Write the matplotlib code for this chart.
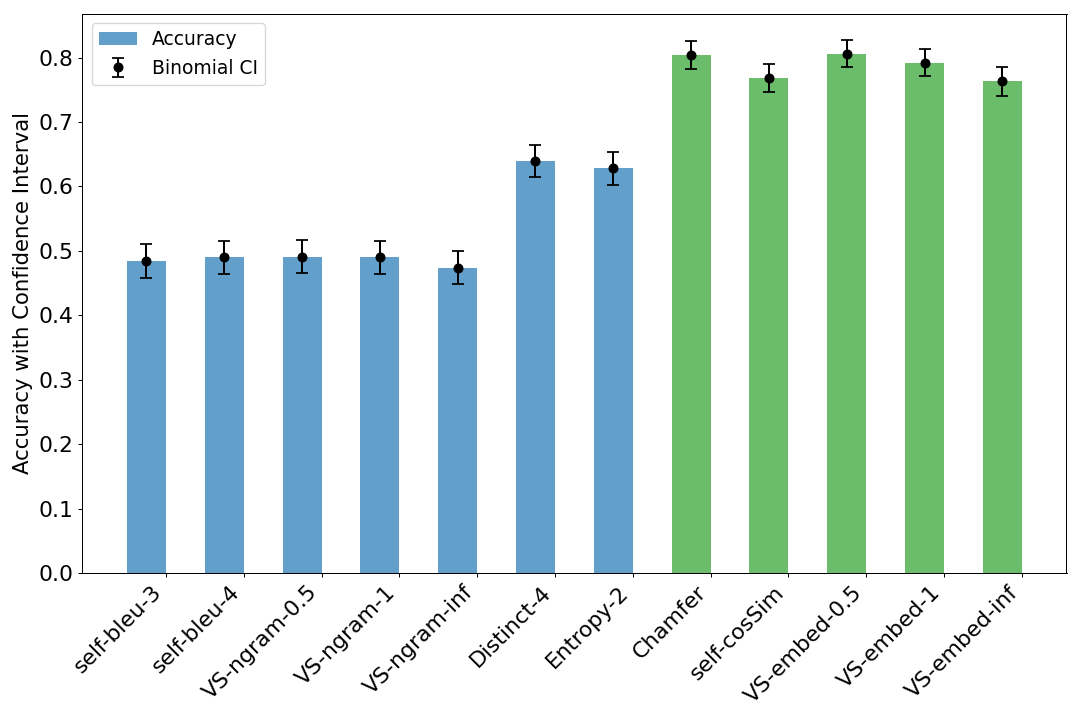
import numpy as np
import matplotlib
matplotlib.use("Agg")
import matplotlib.pyplot as plt

metrics = ["self-bleu-3", "self-bleu-4", "VS-ngram-0.5", "VS-ngram-1", "VS-ngram-inf",
           "Distinct-4", "Entropy-2", "Chamfer", "self-cosSim", "VS-embed-0.5",
           "VS-embed-1", "VS-embed-inf"]
accuracy = [0.484, 0.490, 0.491, 0.490, 0.474, 0.639, 0.628,
            0.804, 0.768, 0.806, 0.792, 0.763]
ci_half = [0.026, 0.026, 0.026, 0.026, 0.026, 0.025, 0.025,
           0.021, 0.022, 0.021, 0.021, 0.022]
groups = ["lexical"] * 7 + ["semantic"] * 5

group_colors = {"lexical": "tab:blue", "semantic": "tab:green"}

fig, ax = plt.subplots(figsize=(12, 8), dpi=90)

x = np.arange(len(metrics))
width = 0.5
colors = [group_colors[g] for g in groups]

ax.bar(x - width / 2, accuracy, width, color=colors, alpha=0.7, label="Accuracy")
ax.errorbar(x - width / 2, accuracy, yerr=ci_half, fmt="o", color="black",
            capsize=5, markersize=7, elinewidth=1.6, capthick=1.4, label="Binomial CI")

ax.set_ylabel("Accuracy with Confidence Interval", fontsize=17)
ax.set_xticks(x)
ax.set_xticklabels(metrics, rotation=45, ha="right", fontsize=17.5)
ax.tick_params(axis="y", labelsize=17.5)
ax.legend(loc="upper left", fontsize=15)

plt.tight_layout()
plt.savefig("out.png", dpi=90)
